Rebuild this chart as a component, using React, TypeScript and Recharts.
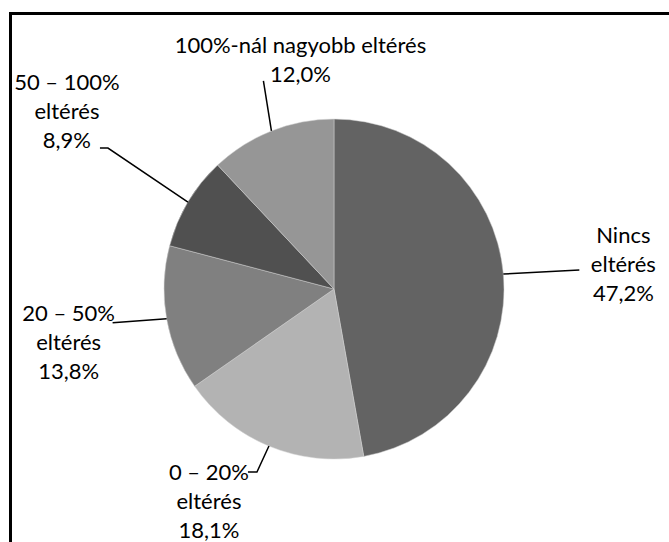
import React from 'react';
import { PieChart, Pie, Cell } from 'recharts';

const CATEGORIES = ['Nincs eltérés', '0 – 20% eltérés', '20 – 50% eltérés', '50 – 100% eltérés', '100%-nál nagyobb eltérés'];
const LABEL_LINES = [
  ['Nincs', 'eltérés'],
  ['0 – 20%', 'eltérés'],
  ['20 – 50%', 'eltérés'],
  ['50 – 100%', 'eltérés'],
  ['100%-nál nagyobb eltérés'],
];
const VALUES = [47.2, 18.1, 13.8, 8.9, 12.0];
const COLORS = ['#636363', '#b3b3b3', '#808080', '#505050', '#969696'];

// leader line bends and text block centre, relative to the slice's outer edge point
const LABEL_LAYOUT = [
  { points: [[76, -4]], text: [120, -11] },
  { points: [[-12, 26], [-21, 26]], text: [-60, 54] },
  { points: [[-54, 4]], text: [-98, 23] },
  { points: [[-80, -54], [-88, -54]], text: [-121, -92] },
  { points: [[-8, -50]], text: [29, -72] },
];

const data = CATEGORIES.map((name, i) => ({ name, value: VALUES[i] }));

const FONT = 'Lato, "Open Sans", sans-serif';
const LINE_H = 29;
const RAD = Math.PI / 180;

const renderLabel = (props: any) => {
  const { cx, cy, midAngle, outerRadius, index, value } = props;
  const ex = cx + outerRadius * Math.cos(-midAngle * RAD);
  const ey = cy + outerRadius * Math.sin(-midAngle * RAD);
  const layout = LABEL_LAYOUT[index];
  const pts = [[ex, ey], ...layout.points.map(([dx, dy]) => [ex + dx, ey + dy])];
  const lines = [...LABEL_LINES[index], `${value.toFixed(1).replace('.', ',')}%`];
  const tx = ex + layout.text[0];
  const ty = ey + layout.text[1];
  return (
    <g key={`lbl-${index}`}>
      <polyline
        points={pts.map((p) => p.join(',')).join(' ')}
        fill="none"
        stroke="#000"
        strokeWidth={1.5}
      />
      <text textAnchor="middle" fontFamily={FONT} fontSize={22} fill="#000">
        {lines.map((line, i) => (
          <tspan key={i} x={tx} y={ty + (i - (lines.length - 1) / 2) * LINE_H} dominantBaseline="central">
            {line}
          </tspan>
        ))}
      </text>
    </g>
  );
};

export default function App() {
  return (
    <div style={{ position: 'fixed', left: 0, top: 0, width: 669, height: 542, overflow: 'hidden', background: '#fff' }}>
      <div
        style={{
          position: 'absolute', left: 9, top: 12, right: -10, bottom: -10,
          borderLeft: '3px solid #000', borderTop: '3px solid #000',
        }}
      />
      <div style={{ position: 'absolute', left: 0, top: 0 }}>
        <PieChart width={669} height={542} margin={{ top: 0, right: 0, bottom: 0, left: 0 }}>
          <Pie
            data={data}
            dataKey="value"
            nameKey="name"
            cx={334}
            cy={289}
            outerRadius={170}
            startAngle={90}
            endAngle={-270}
            stroke="#d0d0d0"
            strokeWidth={0.5}
            labelLine={false}
            label={renderLabel}
            isAnimationActive={false}
          >
            {data.map((entry, i) => (
              <Cell key={entry.name} fill={COLORS[i]} />
            ))}
          </Pie>
        </PieChart>
      </div>
    </div>
  );
}
